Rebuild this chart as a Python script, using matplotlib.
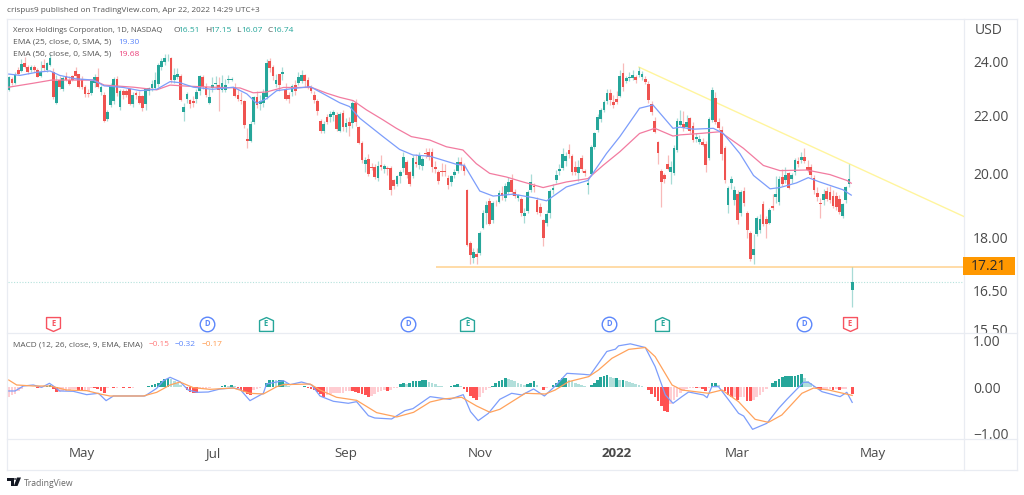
from matplotlib import pyplot as plt
from matplotlib.patches import Rectangle, Polygon, Circle
from matplotlib.path import Path
from matplotlib.transforms import Bbox

plt.rcParams['font.family'] = ['Open Sans', 'DejaVu Sans']

opens = [
    22.93,23.35,23.2,23.7,23.65,23.95,23.8,23.68,23.8,23.68,
    23.45,23.9,23.68,23.9,23.62,22.45,23.3,22.95,23.45,23.3,
    23.45,23.65,23.52,23.35,23.05,22.83,22.8,23.2,23.4,22.85,
    22.75,21.85,22.35,22.5,23.35,22.3,22.9,22.9,
    22.95,22.4,
    22.8,22.7,22.7,22.4,22.9,23.0,23.0,23.15,23.8,24.0,
    24.1,24.15,23.3,23.4,23.47,22.1,22.6,22.55,22.5,22.6,
    22.88,23.42,23.05,22.45,23.0,23.15,23.1,22.93,22.93,23.3,
    23.3,23.05,22.75,22.55,22.5,21.15,21.1,21.75,22.65,22.4,
    22.45,22.65,24.05,23.8,23.15,23.52,23.55,22.95,22.75,22.85,
    23.1,23.17,23.27,23.48,23.3,23.0,22.75,22.5,
    21.78,21.42,21.93,21.92,22.0,22.02,21.45,
    22.09,21.57,21.77,21.73,22.43,21.57,21.03,20.3,20.49,20.2,
    20.22,19.86,20.26,20.15,20.18,20.18,19.77,19.67,19.9,20.18,
    20.37,20.03,19.9,20.37,20.26,20.23,20.69,20.72,20.72,20.2,
    20.03,20.09,20.09,19.86,19.72,19.93,20.07,20.37,20.26,19.45,
    17.85,17.42,17.52,17.55,18.3,18.75,19.12,18.54,19.06,19.09,
    19.37,19.2,19.4,19.77,19.4,19.2,19.19,18.64,18.81,19.47,
    19.6,19.16,18.92,18.52,18.44,18.73,19.47,19.79,20.07,20.18,
    20.41,20.78,20.58,20.2,20.0,20.52,20.07,19.62,19.98,20.87,
    21.47,21.85,22.19,22.53,22.83,22.49,22.58,22.7,23.56,23.27,
    23.37,23.37,23.4,23.5,23.4,23.33,23.15,22.4,21.8,21.06,
    20.07,19.93,20.32,20.03,20.0,20.78,
    21.65,21.69,21.57,21.91,21.61,21.14,21.06,21.06,20.98,20.52,
    21.83,22.61,21.77,21.47,20.84,18.99,19.69,19.14,19.35,18.73,
    19.43,18.73,18.15,17.49,18.11,18.24,19.02,18.57,18.44,18.95,
    19.25,19.09,19.88,19.77,20.0,19.83,20.03,20.41,20.43,20.55,
    20.2,20.22,19.86,19.37,19.06,19.14,19.43,19.4,19.27,19.27,
    19.19,18.64,19.14,19.65,16.51]

closes = [
    23.4,23.17,23.5,23.55,23.93,23.8,23.62,23.8,23.68,23.43,
    23.62,23.75,23.95,24.17,22.65,23.25,23.03,23.38,23.3,23.15,
    23.3,23.45,23.03,23.03,22.78,22.78,23.25,23.4,23.05,23.05,
    21.8,22.1,23.1,23.35,22.8,22.9,22.75,22.75,
    22.4,22.75,
    22.75,22.45,22.25,22.95,23.0,23.15,23.3,23.88,24.05,24.15,
    24.13,23.3,23.48,23.55,22.57,22.3,22.78,22.4,22.45,22.85,
    23.45,23.05,22.75,22.67,23.1,23.18,22.92,23.2,23.13,23.33,
    23.33,22.7,22.6,22.5,21.65,21.08,21.7,22.65,22.38,22.52,
    22.8,23.95,23.75,23.47,23.3,23.1,23.62,22.6,22.58,23.08,
    22.9,23.4,23.48,23.25,23.05,22.9,22.55,22.15,
    21.45,21.68,21.75,22.03,22.1,21.52,22.05,
    21.59,21.73,21.62,22.43,21.77,21.03,20.43,20.45,19.98,20.18,
    19.88,20.23,20.22,20.23,20.13,19.47,19.6,19.9,20.03,20.55,
    19.93,19.67,20.52,20.32,20.57,20.49,20.66,20.55,20.2,20.14,
    19.75,20.03,20.05,19.62,19.9,20.03,20.37,20.26,20.07,17.78,
    17.49,17.58,17.44,18.15,18.75,18.99,18.42,19.06,19.04,19.37,
    19.27,19.58,19.72,19.4,19.27,19.3,18.73,18.75,19.4,19.72,
    19.55,18.78,18.75,17.98,18.71,19.43,19.54,19.96,20.14,20.64,
    20.57,20.64,20.03,20.03,20.2,20.14,20.0,19.69,20.87,21.37,
    21.95,22.19,22.49,22.83,22.55,22.37,22.46,23.46,23.03,23.36,
    23.43,23.5,23.3,23.63,23.53,23.24,22.55,22.13,21.41,20.69,
    19.72,19.83,20.14,20.22,20.84,21.8,
    21.8,21.53,21.77,21.43,21.12,21.21,21.14,20.95,20.26,21.87,
    22.93,21.77,21.53,20.64,19.77,19.54,19.82,19.45,18.54,19.4,
    19.06,18.24,17.39,17.66,18.6,18.57,18.4,18.4,18.83,18.9,
    19.33,19.82,19.67,19.96,19.54,19.93,20.45,20.3,20.55,20.41,
    20.11,19.93,19.47,19.23,19.02,19.35,19.19,19.16,18.96,18.94,
    18.78,19.02,19.56,19.82,16.74]

highs = [
    23.45,23.42,23.6,23.8,24.1,24.2,23.9,23.9,23.9,23.75,
    24.05,24.1,24.0,24.3,23.75,23.5,23.45,23.45,23.6,23.45,
    23.5,23.8,23.55,23.45,23.1,22.95,23.3,23.55,23.75,23.1,
    22.85,22.2,23.2,23.4,23.45,22.95,22.95,22.95,
    23.0,22.85,
    22.9,22.9,22.75,23.0,23.05,23.3,23.6,23.95,24.15,24.3,
    24.3,24.2,23.75,23.75,23.55,22.45,22.85,22.6,22.7,22.95,
    23.5,23.5,23.2,22.95,23.4,23.45,23.4,23.5,23.35,23.5,
    23.4,23.2,22.95,22.85,22.55,21.55,21.8,22.7,22.9,22.75,
    22.95,24.1,24.15,23.9,23.55,23.55,23.8,23.2,22.85,23.15,
    23.3,23.6,23.7,23.55,23.4,23.1,22.9,22.6,
    21.85,21.8,22.05,22.15,22.2,22.1,22.1,
    22.2,21.9,21.95,22.5,22.6,21.6,21.1,20.55,20.65,20.35,
    20.3,20.4,20.6,20.3,20.25,20.25,19.8,19.95,20.1,20.7,
    20.45,20.08,20.6,20.65,20.7,20.55,20.85,20.85,20.85,20.4,
    20.1,20.35,20.3,19.95,19.95,20.15,20.55,20.55,20.35,19.48,
    17.9,17.7,17.7,18.2,18.85,19.1,19.2,19.1,19.15,19.45,
    19.6,19.7,19.88,19.98,19.5,19.35,19.25,18.9,19.45,19.98,
    19.7,19.25,19.05,18.55,18.85,19.5,19.65,20.1,20.3,20.85,
    20.7,20.98,20.65,20.4,20.45,20.6,20.15,19.85,20.95,21.4,
    22.05,22.25,22.55,22.95,22.95,22.75,22.9,23.7,23.95,23.45,
    23.6,23.7,23.5,23.8,23.65,23.45,23.25,22.5,21.95,21.1,
    20.15,20.0,20.6,20.4,20.95,21.88,
    22.2,22.15,22.0,21.95,21.75,21.35,21.3,21.2,21.1,21.95,
    23.05,22.85,21.9,21.6,20.9,19.6,19.92,19.6,19.45,19.45,
    19.55,18.8,18.2,18.1,18.65,18.7,19.1,18.65,18.9,19.35,
    19.9,19.92,20.15,20.2,20.05,20.0,20.5,20.55,20.7,20.85,
    20.45,20.3,19.95,19.55,19.2,19.5,19.55,19.6,19.45,19.4,
    19.3,19.05,19.6,20.3,17.15]

lows = [
    22.9,23.1,23.15,23.5,23.6,23.75,23.55,23.6,23.6,23.4,
    23.4,23.65,23.6,23.85,22.6,22.4,22.95,22.9,23.25,23.1,
    23.25,23.35,23.0,22.95,22.65,22.65,22.75,23.05,23.0,22.75,
    21.75,21.78,22.3,22.4,22.7,22.2,22.6,22.65,
    22.35,22.3,
    22.6,22.4,22.15,22.2,22.75,22.9,22.95,23.05,23.7,23.9,
    24.05,23.2,23.2,23.35,22.5,21.8,22.45,22.25,22.3,22.45,
    22.75,22.95,22.65,22.4,22.85,23.0,22.15,22.85,22.85,23.2,
    23.25,22.65,22.5,22.4,21.55,20.85,21.05,21.7,22.25,22.2,
    22.3,22.6,23.6,23.3,23.05,22.9,23.3,22.55,22.45,22.7,
    22.75,23.1,23.2,23.05,22.95,22.8,22.45,22.0,
    21.35,21.35,21.7,21.75,21.8,21.45,21.4,
    21.45,21.4,21.25,21.55,21.6,21.0,20.35,20.05,19.9,20.1,
    19.8,19.75,20.1,20.0,19.95,19.3,19.5,19.6,19.7,20.05,
    19.85,19.6,19.85,20.2,20.15,20.1,20.5,20.45,20.05,20.0,
    19.65,19.9,19.9,19.5,19.6,19.85,20.0,20.1,19.95,17.75,
    17.25,17.27,17.25,17.5,18.25,18.4,18.38,18.45,18.95,19.05,
    19.15,19.1,19.35,19.3,19.2,19.1,18.65,18.45,18.75,19.4,
    19.4,18.7,18.65,17.75,18.35,18.6,19.35,19.7,19.95,20.1,
    20.25,20.5,19.95,19.95,19.75,20.05,19.9,19.35,19.9,20.8,
    21.4,21.75,22.1,22.4,22.35,22.25,22.4,22.65,22.9,23.2,
    23.25,23.3,23.2,23.4,23.3,23.15,22.45,22.0,21.35,20.3,
    18.94,19.7,20.1,19.65,19.95,20.7,
    21.6,21.45,21.5,21.35,21.05,21.05,21.0,20.9,20.05,20.45,
    21.75,21.7,21.45,20.45,19.7,18.75,19.5,19.0,18.4,18.65,
    18.95,18.0,17.33,17.25,18.05,18.15,18.35,18.0,18.4,18.85,
    19.05,19.0,19.6,19.7,19.5,19.7,19.95,20.2,20.35,20.35,
    20.05,19.85,19.35,19.1,18.6,19.0,19.1,19.05,18.9,18.85,
    18.7,18.6,19.05,19.55,16.07]

ema25_bars = [0,3.6,8.8,13,16,21,26.6,30,36,41.3,46.5,50.7,53.8,58,64,70.6,74.8,77.9,81,84.2,89.4,94.7,97.8,
              104,107.1,110.3,117.6,122.8,127,132.3,140.6,143.2,148,152.2,158.5,164.8,169,175.2,182,187.8,192,198.2,202.4,208.7,
              210.9,215.1,221.4,224.5,229.7,234,239.2,242.3,247.5,251.2,254.8,262.1,264.7]
ema25_vals = [23.53,23.48,23.6,23.65,23.48,23.35,23.3,23.08,23.02,22.9,22.95,23.24,23.2,23.03,22.95,23.03,22.78,22.43,22.6,22.9,22.98,23.05,22.85,
              22.45,22.31,21.89,21.24,20.8,20.61,20.57,20.3,20.26,19.43,19.27,19.33,19.22,19.12,19.56,19.77,20.66,21.24,22.25,22.37,21.53,
              21.57,21.5,21.53,21.35,20.66,19.93,19.5,19.54,19.69,19.86,19.72,19.47,19.3]
ema50_bars = [0,7.7,13.5,20,26.6,30,39.2,46.5,50.7,56,64,72.7,76.8,81,86.3,95.2,100,
              104,108.2,112.4,117.6,121.8,126.5,132.3,137.5,142.7,146.9,151.1,156.4,161.6,167.9,175.2,182,186.7,192,198.2,203,208.7,
              210.9,217.2,223.5,230.8,237.1,242.3,250.7,258,263.3,264.7]
ema50_vals = [23.03,23.18,23.3,23.3,23.3,23.11,23.03,22.93,23.11,23.07,23.03,23.0,22.82,22.85,23.02,23.02,22.8,
              22.65,22.53,22.19,21.83,21.53,21.24,21.12,20.89,20.78,20.32,20.0,19.88,19.72,19.54,19.72,19.83,20.26,20.72,21.35,21.53,21.26,
              21.3,21.35,21.41,20.84,20.26,20.09,20.11,19.96,19.77,19.68]

macd_hist = [
    -.2,-.17,-.14,-.08,-.03,0,0,.02,.02,-.02,
    -.02,.02,.03,.05,-.04,-.09,-.09,-.08,-.07,-.06,
    -.04,-.03,-.06,-.08,-.08,-.08,-.01,-.02,-.03,-.08,
    -.12,-.02,0,-.02,-.02,0,-.02,0,-.01,-.01,
    0,.01,0,.02,.03,.05,.07,.09,.13,.18,
    .2,.18,.14,.1,.06,.02,-.06,-.09,-.11,-.12,
    -.04,-.03,-.03,-.01,0,.01,.02,.03,.05,.04,
    .06,.03,-.01,-.05,-.09,-.13,-.17,-.05,-.03,-.01,
    .02,.1,.16,.17,.16,.17,.17,.1,.04,.02,
    .02,.02,.02,.04,-.01,-.03,-.05,-.1,-.14,-.2,
    -.17,-.14,-.12,-.12,-.12,-.12,-.08,-.07,-.08,-.1,
    -.12,-.14,-.17,-.2,-.19,-.14,-.1,-.08,-.06,-.08,
    -.06,-.02,-.01,.08,.1,.08,.09,.13,.14,.15,
    .16,.16,.12,.1,.07,.04,.03,.01,.02,.03,
    .05,.07,.04,-.03,-.1,-.18,-.22,-.27,-.2,-.12,
    -.06,-.02,.04,.1,.14,.16,.2,.19,
    .17,.14,.1,.08,.05,.07,.1,.13,.05,.02,
    -.05,-.01,.02,.05,.1,.16,.2,.21,.16,.13,
    .1,.07,.05,.03,.01,.06,.1,.16,.22,.24,
    .27,.22,.2,.2,.17,.17,.15,.12,.1,.08,
    .05,.03,.01,-.05,-.14,-.2,-.3,-.4,-.5,-.52,
    -.35,-.27,-.2,-.12,-.07,-.03,-.01,-.01,-.02,-.02,
    -.03,-.08,-.02,.1,.1,.05,0,-.07,-.16,-.2,
    -.2,-.27,-.2,-.2,-.28,-.3,-.27,-.2,-.16,-.09,
    -.04,.02,.1,.15,.19,.22,.24,.24,.24,.25,
    .26,.28,.2,.15,.1,.03,-.02,-.05,-.05,-.05,
    -.03,-.06,-.03,-.06,-.04,-.03,.02,-.15]

macd_bars = [0,2,4.6,7.7,10.4,12.8,14.6,16,20.3,24.5,28.2,30.6,32.9,39.2,42.8,46.5,48.6,50.7,53.8,56.4,59.1,62.7,66.4,70.6,72.7,75.8,80,81,86.3,88.4,92,95.2,97.8,102,106.7,109.3,113,115,120.3,124.5,127,132.4,138.6,142.8,145.1,147.5,150.7,154.3,
             158,161.2,164.9,168.3,171.7,175.4,180.6,182.7,187.9,190.6,191.6,195.3,200,203.1,206.3,208.7,211.5,213.6,218.3,219.4,220.9,223,226.2,229.3,230.9,233.7,238.2,241.9,244.5,249.7,251.3,255.5,261.2,263.3,265]
macd_vals = [-.075,-.075,.032,.054,.004,.09,.004,-.075,-.082,-.154,-.125,-.283,-.183,-.183,-.183,-.018,.147,.219,.125,-.054,-.104,-.097,-.032,-.011,-.04,-.283,-.125,.075,.147,.061,.118,.054,-.183,-.297,-.34,-.305,-.606,-.656,-.677,-.498,-.455,-.197,-.255,-.154,-.52,-.713,-.556,-.254,
             -.125,-.161,-.032,-.183,.032,.305,.283,.269,.774,.824,.896,.939,.86,.448,-.161,-.34,-.197,-.097,-.161,-.219,.018,.018,-.269,-.556,-.613,-.9,-.77,-.448,-.254,.111,.111,-.09,-.197,-.104,-.32]
signal_bars = [0,2.5,7.7,13,18.2,24.5,28.7,31.8,42.3,46.5,50.7,53.8,58,63.2,70.6,75.8,80,84.2,86.3,94.7,97.8,103,109.3,115.6,121.9,127.2,132.4,136.5,142.3,147,151.2,154.3,158.1,
               162.3,168.6,171.7,175.9,182.2,185.3,189.5,194.8,200,203.1,208.4,211.5,219.9,224.1,229.3,234.5,238.7,242.9,249.2,252.9,257.6,265]
signal_vals = [.161,.054,.032,.032,-.054,-.068,-.14,-.183,-.183,-.104,.054,.118,-.004,-.04,-.011,-.125,-.14,.018,.061,.075,-.054,-.211,-.276,-.541,-.634,-.534,-.312,-.247,-.211,-.398,-.534,-.469,-.305,
               -.125,-.14,-.054,.125,.233,.376,.627,.82,.86,.663,.054,-.054,-.125,-.054,-.305,-.685,-.75,-.591,-.125,-.011,-.054,-.17]

price_ticks = [24, 22, 20, 18, 16.5, 15.5]
macd_ticks = [1, 0, -1]
time_bars = [23, 64, 106, 148, 191, 229, 271.5]
time_labels = ['May', 'Jul', 'Sep', 'Nov', '2022', 'Mar', 'May']
earnings_down = [14, 264.3]
earnings_up = [80.8, 144, 205.3]
dividends = [62.3, 125.5, 188.6, 249.9]
trend_bars = [198, 300]
trend_vals = [23.8, 18.64]
support_bars = [134.2, 300]
support_vals = [17.17, 17.17]
last_close = 16.74

assert len(opens) == len(closes) == len(highs) == len(lows) == len(macd_hist) == 266

GREEN = '#26a69a'
RED = '#ef5350'
W, H = 1024, 495


def fx(x):
    return x / W


def fy(y):
    return 1 - y / H


def pane(left, top, right, bottom):
    ax = fig.add_axes([fx(left), fy(bottom), fx(right - left), (bottom - top) / H])
    for s in ax.spines.values():
        s.set_visible(False)
    ax.set_xlim((left - 8.7) / 3.183, (right - 8.7) / 3.183)
    return ax


def label(x, y, s, color='#555555', size=6.0, **kw):
    fig.text(fx(x), fy(y), s, color=color, fontsize=size, va='center', **kw)


fig = plt.figure(figsize=(W / 100, H / 100), dpi=100)
ax = pane(8, 19, 964, 333)
ax2 = pane(8, 333, 964, 439)

# candles
for i in range(len(opens)):
    col = GREEN if closes[i] >= opens[i] else RED
    ax.vlines(i, lows[i], highs[i], color=col, lw=0.9, alpha=0.4, zorder=2)
    ax.bar(i, abs(closes[i] - opens[i]), bottom=min(opens[i], closes[i]), width=0.86, color=col, lw=0, zorder=3)

ax.plot(ema50_bars, ema50_vals, color='#f27ba0', lw=0.9, zorder=4)
ax.plot(ema25_bars, ema25_vals, color='#7c9dfb', lw=0.9, zorder=4)
ax.plot(trend_bars, trend_vals, color='#fff59d', lw=1, zorder=1)
ax.plot(support_bars, support_vals, color='#ffd9a0', lw=1.3, zorder=1, solid_capstyle='butt')
ax.axhline(last_close, color='#b5e2dc', lw=0.8, ls=(0, (1, 1.5)), zorder=1)

ax.set_yscale('log')
ax.set_ylim(15.4, 25.75)
ax.yaxis.tick_right()
ax.minorticks_off()
ax.set_yticks(price_ticks)
ax.set_yticklabels(['%.2f' % t for t in price_ticks])
ax.tick_params(axis='y', length=0, labelsize=10, labelcolor='#4a4a4a', pad=6.5)
ax.tick_params(axis='x', length=0, labelbottom=False)
# the lowest price label is cut off by the pane edge
for t in ax.get_yticklabels():
    t.set_clip_box(Bbox([[964, H - 333], [1017, H - 19]]))
    t.set_clip_on(True)

# events row
trans = ax.get_xaxis_transform()
EVENT_Y = (333 - 324) / (333 - 19)
down = Path([(-1, 1), (1, 1), (1, -.55), (0, -1), (-1, -.55), (-1, 1)], closed=True)
up = Path([(-1, -1), (1, -1), (1, .55), (0, 1), (-1, .55), (-1, -1)], closed=True)
ax.plot(earnings_down, [EVENT_Y] * 2, ls='', marker=down, ms=10, mfc='white', mec='#f7525f', mew=1, transform=trans, clip_on=False, zorder=5)
ax.plot(earnings_up, [EVENT_Y] * 3, ls='', marker=up, ms=10, mfc='white', mec=GREEN, mew=1, transform=trans, clip_on=False, zorder=5)
ax.plot(dividends, [EVENT_Y] * 4, ls='', marker='o', ms=10.5, mfc='white', mec='#5b86fb', mew=1, transform=trans, clip_on=False, zorder=5)
for b in earnings_down:
    ax.text(b, EVENT_Y, 'E', color='#f7525f', fontsize=5.5, fontweight='bold', ha='center', va='center', transform=trans, zorder=6)
for b in earnings_up:
    ax.text(b, EVENT_Y, 'E', color=GREEN, fontsize=5.5, fontweight='bold', ha='center', va='center', transform=trans, zorder=6)
for b in dividends:
    ax.text(b, EVENT_Y, 'D', color='#5b86fb', fontsize=5.5, fontweight='bold', ha='center', va='center', transform=trans, zorder=6)

# macd pane
hist_colors = []
for i, v in enumerate(macd_hist):
    prev = macd_hist[i - 1] if i else v
    if v >= 0:
        hist_colors.append(GREEN if v >= prev else '#b2dfdb')
    else:
        hist_colors.append('#ff5252' if v < prev else '#ffcdd2')
ax2.bar(range(len(macd_hist)), macd_hist, width=0.84, color=hist_colors, lw=0, zorder=2)
ax2.plot(macd_bars, macd_vals, color='#7c9dfb', lw=0.9, zorder=3)
ax2.plot(signal_bars, signal_vals, color='#ffa25c', lw=0.9, zorder=4)
ax2.set_ylim(-1.108, 1.172)
ax2.yaxis.tick_right()
ax2.set_yticks(macd_ticks)
ax2.set_yticklabels(['1.00', '0.00', '\u22121.00'])
ax2.tick_params(axis='y', length=0, labelsize=10, labelcolor='#4a4a4a', pad=6.5)
ax2.set_xticks(time_bars)
ax2.set_xticklabels(time_labels)
ax2.tick_params(axis='x', length=0, labelsize=9.6, labelcolor='#4a4a4a', pad=6)
ax2.get_xticklabels()[4].set_fontweight('bold')

# frame of the widget
FRAME = '#e9ecf2'
for x0, y0, x1, y1 in [(7, 19, 1017, 19), (7, 470, 1017, 470), (7, 19, 7, 470), (1017, 19, 1017, 470),
                       (964, 19, 964, 470), (7, 333, 1017, 333), (7, 439, 1017, 439)]:
    fig.add_artist(plt.Line2D([fx(x0), fx(x1)], [fy(y0), fy(y1)], color=FRAME, lw=0.9))

# label of the drawn support level
fig.add_artist(Rectangle((fx(963), fy(275)), 52 / W, 18 / H, color='#ff9800', lw=0, zorder=5))
fig.text(fx(989), fy(266), '17.21', color='#2a2a2a', fontsize=10, ha='center', va='center', zorder=6)
fig.text(fx(989), fy(31), 'USD', color='#4a4a4a', fontsize=10, ha='center', va='center')

label(7, 11, 'crispus9 published on TradingView.com, Apr 22, 2022 14:29 UTC+3', size=5.85)
label(13, 30, 'Xerox Holdings Corporation, 1D, NASDAQ', size=5.55)
for x, s, c in [(173, 'O', '#555555'), (178, '16.51', GREEN), (205, 'H', '#555555'), (210, '17.15', GREEN),
                (236, 'L', '#555555'), (241, '16.07', GREEN), (267, 'C', '#555555'), (272, '16.74', GREEN)]:
    label(x, 30, s, color=c)
label(13, 42, 'EMA (25, close, 0, SMA, 5)')
label(118, 42, '19.30', color='#5b86fb')
label(13, 54, 'EMA (50, close, 0, SMA, 5)')
label(118, 54, '19.68', color='#ec407a')
label(13, 345, 'MACD (12, 26, close, 9, EMA, EMA)', size=5.95)
label(149, 345, '\u22120.15', color='#ff7a7a', size=5.95)
label(175, 345, '\u22120.32', color='#5b86fb', size=5.95)
label(202, 345, '\u22120.17', color='#ff9a4d', size=5.95)

# tradingview logo and name
fig.add_artist(Polygon([(fx(7), fy(477.5)), (fx(13.5), fy(477.5)), (fx(13.5), fy(486)), (fx(10.5), fy(486)),
                        (fx(10.5), fy(480.5)), (fx(7), fy(480.5))], color='#131722', lw=0))
fig.add_artist(Polygon([(fx(17), fy(477.5)), (fx(21), fy(477.5)), (fx(17.5), fy(486)), (fx(13.8), fy(486))], color='#131722', lw=0))
fig.add_artist(Circle((fx(15.2), fy(479)), 1.4 / W, color='#131722', lw=0))
label(24, 483, 'TradingView', color='#666666', size=6.2)

plt.savefig('out.png', dpi=100)
